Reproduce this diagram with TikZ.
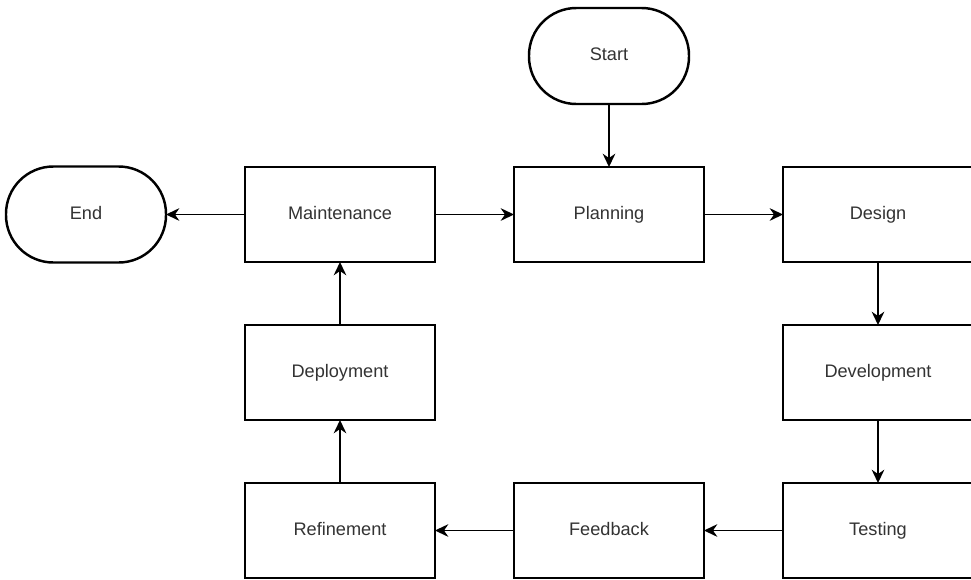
\documentclass[tikz,border=0pt]{standalone}
\usepackage{fontspec}
\setmainfont{Liberation Sans}
\usepackage{tikz}
\usetikzlibrary{arrows.meta,positioning}
\definecolor{cLine}{HTML}{000000}
\definecolor{cText}{HTML}{333333}
\tikzset{
  box/.style={draw=cLine, line width=1.4pt, fill=white, text=cText,
              align=center, font=\fontsize{15.5}{18}\selectfont,
              minimum width=57mm, minimum height=28.5mm, inner sep=0pt,
              outer sep=0pt, text height=11pt, text depth=3pt},
  term/.style={box, line width=2.1pt, rounded corners=14.2mm,
               minimum width=48mm, minimum height=28.8mm},
  flow/.style={-{Stealth[length=4mm, width=3.8mm, inset=1.3mm]},
               line width=1.2pt, draw=cLine},
}
\begin{document}
\begin{tikzpicture}[node distance=18.9mm and 23.7mm]
  \useasboundingbox (0,0) rectangle (291.3mm,-173.7mm);

  \node[box] (plan) at (182.7mm,-64.35mm) {Planning};
  \node[box, right=of plan] (design) {Design};
  \node[box, below=of design] (dev) {Development};
  \node[box, below=of dev] (test) {Testing};
  \node[box, left=of test] (feed) {Feedback};
  \node[box, left=of feed] (refine) {Refinement};
  \node[box, above=of refine] (deploy) {Deployment};
  \node[box, above=of deploy] (maint) {Maintenance};
  \node[term, above=of plan] (start) {Start};
  \node[term, left=of maint] (end) {End};

  % main cycle
  \draw[flow] (start) -- (plan);
  \draw[flow] (plan) -- (design);
  \draw[flow] (design) -- (dev);
  \draw[flow] (dev) -- (test);
  \draw[flow] (test) -- (feed);
  \draw[flow] (feed) -- (refine);
  \draw[flow] (refine) -- (deploy);
  \draw[flow] (deploy) -- (maint);
  \draw[flow] (maint) -- (plan);
  \draw[flow] (maint) -- (end);
\end{tikzpicture}
\end{document}
